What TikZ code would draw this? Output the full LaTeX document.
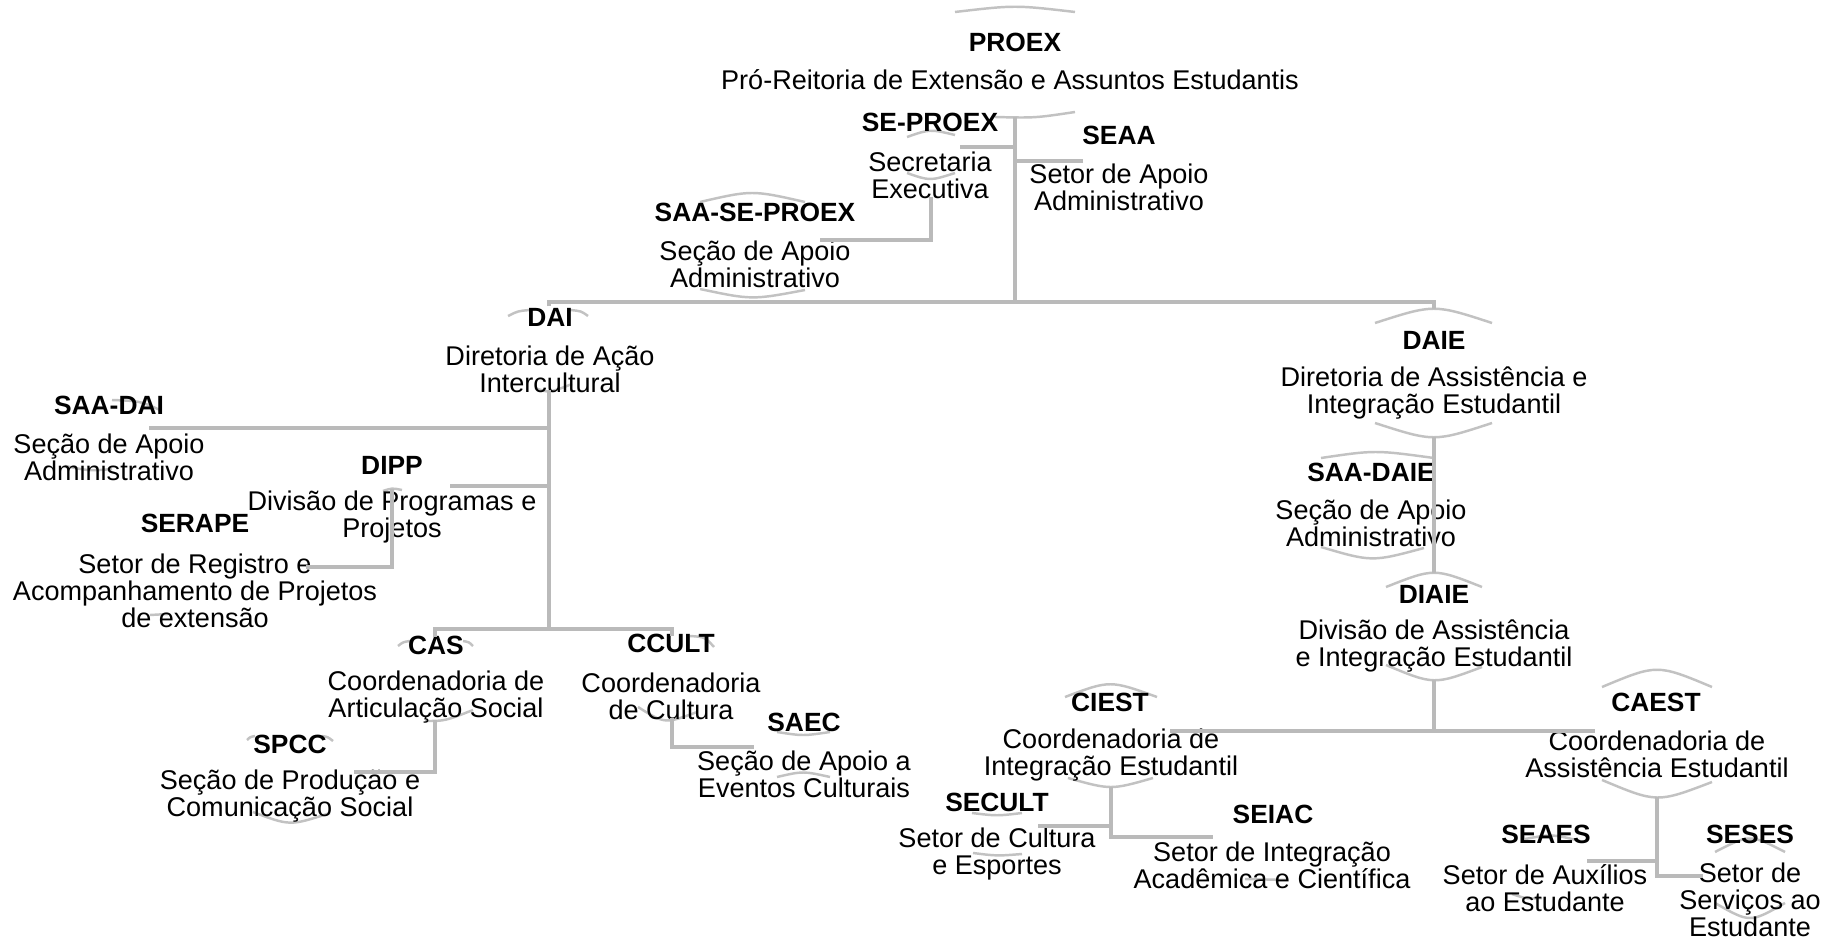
\documentclass[tikz,border=0pt]{standalone}
\usepackage{fontspec}
\setmainfont{Liberation Sans}
\begin{document}
\begin{tikzpicture}[x=0.2mm,y=-0.2mm,
  unit/.style={font=\bfseries\fontsize{15}{18}\selectfont, inner sep=0pt},
  desc/.style={align=center, font=\fontsize{15.4}{15.2}\selectfont, inner sep=0pt},
  link/.style={draw=black!27, line width=1.8pt},
  rim/.style={draw=black!24, line width=1.4pt}]
\path[fill=white] (0,0) rectangle (1838,941);

\path[rim] (955,12) .. controls (1015,5) .. (1075,12);
\path[rim] (995,117) .. controls (1035,118) .. (1075,112);
\path[rim] (907,137) .. controls (930,129) .. (955,135);
\path[rim] (907,173) .. controls (930,181) .. (955,173);
\path[rim] (700,202) .. controls (752,190) .. (805,202);
\path[rim] (700,289) .. controls (752,300) .. (805,290);
\path[rim] (508,316) .. controls (518,311) .. (530,310);
\path[rim] (570,310) .. controls (581,311) .. (588,316);
\path[rim] (535,388) .. controls (549,393) .. (572,384);
\path[rim] (112,400) .. controls (140,401) .. (160,410);
\path[rim] (65,466) .. controls (90,471) .. (112,469);
\path[rim] (383,491) .. controls (392,488) .. (402,490);
\path[rim] (150,615) -- (168,614);
\path[rim] (398,646) .. controls (403,642) .. (410,641);
\path[rim] (463,641) .. controls (469,642) .. (473,646);
\path[rim] (425,721) .. controls (445,721) .. (473,710);
\path[rim] (247,740) .. controls (250,737) .. (255,736);
\path[rim] (322,736) .. controls (328,737) .. (333,741);
\path[rim] (253,812) .. controls (290,826) .. (330,813);
\path[rim] (690,636) .. controls (705,637) .. (714,647);
\path[rim] (638,707) .. controls (665,724) .. (697,712);
\path[rim] (777,732) .. controls (803,736) .. (830,732);
\path[rim] (777,777) .. controls (803,771) .. (830,777);
\path[rim] (1375,323) .. controls (1434,304) .. (1492,323);
\path[rim] (1375,423) .. controls (1434,442) .. (1492,423);
\path[rim] (1321,458) .. controls (1375,450) .. (1434,458);
\path[rim] (1321,547) .. controls (1372,562) .. (1424,548);
\path[rim] (1386,587) .. controls (1434,568) .. (1482,587);
\path[rim] (1386,665) .. controls (1434,685) .. (1482,667);
\path[rim] (1602,687) .. controls (1657,664) .. (1712,687);
\path[rim] (1602,780) .. controls (1657,803) .. (1712,782);
\path[rim] (1065,697) .. controls (1110,680) .. (1157,697);
\path[rim] (1068,778) .. controls (1111,790) .. (1153,778);
\path[rim] (972,813) .. controls (997,816) .. (1022,813);
\path[rim] (973,853) .. controls (997,856) .. (1022,854);
\path[rim] (1245,879) -- (1287,880);
\path[rim] (1525,839) .. controls (1552,834) .. (1580,841);
\path[rim] (1512,894) .. controls (1527,899) .. (1542,898);
\path[rim] (1715,852) .. controls (1750,834) .. (1785,852);
\path[rim] (1715,903) .. controls (1750,923) .. (1785,903);

\node[unit] (proex) at (1015,42) {PROEX};
\node[desc] (proexd) at (1010,80) {Pró-Reitoria de Extensão e Assuntos Estudantis};
\node[unit] (seproex) at (930,122) {SE-PROEX};
\node[desc] (seproexd) at (930,175) {Secretaria\\Executiva};
\node[unit] (seaa) at (1119,135) {SEAA};
\node[desc] (seaad) at (1119,187) {Setor de Apoio\\Administrativo};
\node[unit] (saase) at (755,212) {SAA-SE-PROEX};
\node[desc] (saased) at (755,264) {Seção de Apoio\\Administrativo};
\node[unit] (dai) at (550,317) {DAI};
\node[desc] (daid) at (550,369) {Diretoria de Ação\\Intercultural};
\node[unit] (saadai) at (109,405) {SAA-DAI};
\node[desc] (saadaid) at (109,457) {Seção de Apoio\\Administrativo};
\node[unit] (dipp) at (392,465) {DIPP};
\node[desc] (dippd) at (392,517) {Divisão de Programas e\\Projetos};
\node[unit] (serape) at (195,523) {SERAPE};
\node[desc] (seraped) at (195,591) {Setor de Registro e\\Acompanhamento de Projetos\\de extensão};
\node[unit] (cas) at (436,645) {CAS};
\node[desc] (casd) at (436,697) {Coordenadoria de\\Articulação Social};
\node[unit] (ccult) at (671,643) {CCULT};
\node[desc] (ccultd) at (671,696) {Coordenadoria\\de Cultura};
\node[unit] (spcc) at (290,744) {SPCC};
\node[desc] (spccd) at (290,796) {Seção de Produção e\\Comunicação Social};
\node[unit] (saec) at (804,722) {SAEC};
\node[desc] (saecd) at (804,774) {Seção de Apoio a\\Eventos Culturais};
\node[unit] (daie) at (1434,340) {DAIE};
\node[desc] (daied) at (1434,393) {Diretoria de Assistência e\\Integração Estudantil};
\node[unit] (saadaie) at (1371,472) {SAA-DAIE};
\node[desc] (saadaied) at (1371,523) {Seção de Apoio\\Administrativo};
\node[unit] (diaie) at (1434,594) {DIAIE};
\node[desc] (diaied) at (1434,646) {Divisão de Assistência\\e Integração Estudantil};
\node[unit] (ciest) at (1110,702) {CIEST};
\node[desc] (ciestd) at (1111,755) {Coordenadoria de\\Integração Estudantil};
\node[unit] (caest) at (1656,702) {CAEST};
\node[desc] (caestd) at (1657,754) {Coordenadoria de\\Assistência Estudantil};
\node[unit] (secult) at (997,802) {SECULT};
\node[desc] (secultd) at (997,854) {Setor de Cultura\\e Esportes};
\node[unit] (seiac) at (1273,814) {SEIAC};
\node[desc] (seiacd) at (1272,865) {Setor de Integração\\Acadêmica e Científica};
\node[unit] (seaes) at (1546,834) {SEAES};
\node[desc] (seaesd) at (1545,888) {Setor de Auxílios\\ao Estudante};
\node[unit] (seses) at (1750,834) {SESES};
\node[desc] (sesesd) at (1750,900) {Setor de\\Serviços ao\\Estudante};

\coordinate (proex-b) at (1015,117);
\coordinate (bar-l) at (549,302);
\coordinate (bar-r) at (1434,302);
\coordinate (seproex-r) at (960,147);
\coordinate (seaa-l) at (1083,161);
\coordinate (seproex-b) at (931,197);
\coordinate (saase-r) at (820,240);
\coordinate (dai-t) at (549,306);
\coordinate (daie-t) at (1434,309);
\coordinate (dai-b) at (549,390);
\coordinate (cul-bar) at (549,629);
\coordinate (cas-t) at (435,637);
\coordinate (ccult-t) at (672,636);
\coordinate (saadai-r) at (149,428);
\coordinate (dipp-r) at (450,486);
\coordinate (dipp-b) at (392,489);
\coordinate (serape-r) at (306,567);
\coordinate (cas-b) at (435,720);
\coordinate (spcc-r) at (354,772);
\coordinate (ccult-b) at (672,718);
\coordinate (saec-l) at (754,747);
\coordinate (daie-b) at (1434,437);
\coordinate (diaie-t) at (1434,573);
\coordinate (diaie-b) at (1434,680);
\coordinate (ciest-r) at (1170,731);
\coordinate (caest-l) at (1595,731);
\coordinate (ciest-b) at (1111,787);
\coordinate (secult-r) at (1038,826);
\coordinate (seiac-l) at (1213,837);
\coordinate (caest-b) at (1657,797);
\coordinate (seaes-r) at (1587,861);
\coordinate (seses-l) at (1703,876);

\path[link] (proex-b) -- (proex-b |- bar-l);
\path[link] (seproex-r) -- (seproex-r -| proex-b);
\path[link] (seaa-l) -- (seaa-l -| proex-b);
\path[link] (seproex-b) |- (saase-r);
\path[link] (dai-t) -- (bar-l) -- (bar-r) -- (daie-t);
\path[link] (dai-b) -- (cul-bar);
\path[link] (cas-t) -- (cas-t |- cul-bar) -- (ccult-t |- cul-bar) -- (ccult-t);
\path[link] (saadai-r) -- (saadai-r -| dai-b);
\path[link] (dipp-r) -- (dipp-r -| dai-b);
\path[link] (dipp-b) |- (serape-r);
\path[link] (cas-b) |- (spcc-r);
\path[link] (ccult-b) |- (saec-l);
\path[link] (daie-b) -- (diaie-t);
\path[link] (diaie-b) -- (diaie-b |- ciest-r);
\path[link] (ciest-r) -- (caest-l);
\path[link] (secult-r) -- (secult-r -| ciest-b);
\path[link] (ciest-b) |- (seiac-l);
\path[link] (seaes-r) -- (seaes-r -| caest-b);
\path[link] (caest-b) |- (seses-l);
\end{tikzpicture}
\end{document}
